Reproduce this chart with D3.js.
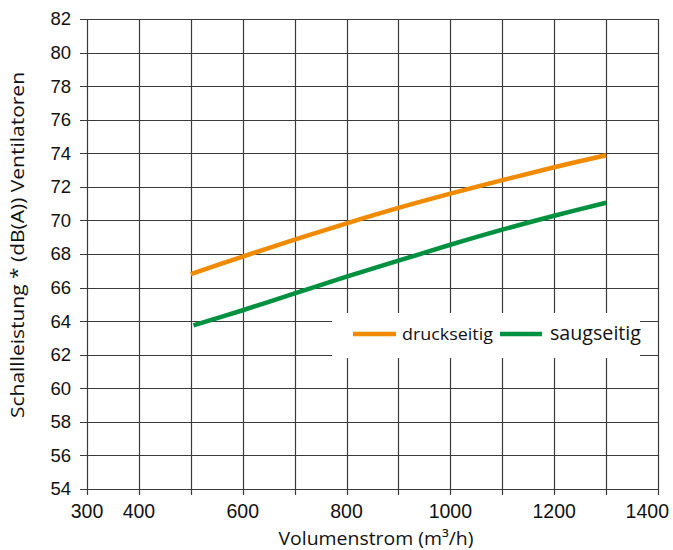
<!DOCTYPE html>
<html><head><meta charset="utf-8">
<script src="https://cdn.jsdelivr.net/npm/d3@7"></script>
<style>body{margin:0;background:#fff;}svg{display:block;}</style>
</head><body>
<svg id="chart" width="673" height="550"></svg>
<script>
const xTickValues = [300, 400, 600, 800, 1000, 1200, 1400];
const xGridValues = [300, 400, 500, 600, 700, 800, 900, 1000, 1100, 1200, 1300, 1400];
const yTickValues = [54, 56, 58, 60, 62, 64, 66, 68, 70, 72, 74, 76, 78, 80, 82];
const seriesNames = ["druckseitig", "saugseitig"];
const seriesColors = ["#F08A00", "#009140"];
const druckX = [500, 600, 700, 800, 900, 1000, 1100, 1200, 1300];
const druckY = [66.8, 67.85, 68.85, 69.83, 70.75, 71.6, 72.4, 73.17, 73.88];
const saugX = [505, 600, 700, 800, 900, 1000, 1100, 1200, 1300];
const saugY = [63.75, 64.65, 65.65, 66.65, 67.6, 68.55, 69.45, 70.28, 71.05];

const svg = d3.select("#chart");
const x = d3.scaleLinear().domain([300, 1400]).range([87, 658]);
const y = d3.scaleLinear().domain([54, 82]).range([489, 19]);

// grid
svg.append("g").selectAll("line").data(xGridValues).join("line")
  .attr("x1", d => Math.round(x(d)) + 0.5).attr("x2", d => Math.round(x(d)) + 0.5)
  .attr("y1", y(82)).attr("y2", y(54) + 6)
  .attr("stroke", "#3a3a3a").attr("stroke-width", 1.2);
svg.append("g").selectAll("line").data(yTickValues).join("line")
  .attr("y1", d => Math.round(y(d)) + 0.5).attr("y2", d => Math.round(y(d)) + 0.5)
  .attr("x1", x(300) - 7).attr("x2", x(1400))
  .attr("stroke", "#3a3a3a").attr("stroke-width", 1.2);

// tick labels
svg.append("g").selectAll("text").data(yTickValues).join("text")
  .attr("x", 71).attr("y", d => y(d)).attr("dy", "0.35em")
  .attr("text-anchor", "end")
  .attr("font-family", "Liberation Sans, Arial, sans-serif").attr("font-size", 18.5)
  .attr("fill", "#111").text(d => d);
svg.append("g").selectAll("text").data(xTickValues).join("text")
  .attr("x", d => d === 1400 ? 669 : x(d)).attr("y", 518)
  .attr("text-anchor", d => d === 1400 ? "end" : "middle")
  .attr("font-family", "Liberation Sans, Arial, sans-serif").attr("font-size", 19.5)
  .attr("fill", "#111").text(d => d);

// axis titles
svg.append("text").attr("x", 376).attr("y", 545).attr("text-anchor", "middle")
  .attr("font-family", "Open Sans, sans-serif").attr("font-size", 19)
  .attr("textLength", 195).attr("lengthAdjust", "spacingAndGlyphs")
  .attr("fill", "#111").text("Volumenstrom (m³/h)");
svg.append("text").attr("transform", "translate(24,245) rotate(-90)").attr("text-anchor", "middle")
  .attr("font-family", "Open Sans, sans-serif").attr("font-size", 19)
  .attr("textLength", 346).attr("lengthAdjust", "spacingAndGlyphs")
  .attr("fill", "#111").text("Schallleistung * (dB(A)) Ventilatoren");

// lines
const line = d3.line().x(d => x(d[0])).y(d => y(d[1])).curve(d3.curveCatmullRom.alpha(0.5));
const data = [d3.zip(druckX, druckY), d3.zip(saugX, saugY)];
svg.append("g").selectAll("path").data(data).join("path")
  .attr("d", line).attr("fill", "none")
  .attr("stroke", (d, i) => seriesColors[i]).attr("stroke-width", 4.5);

// legend
svg.append("rect").attr("x", 332).attr("y", 313).attr("width", 308).attr("height", 45).attr("fill", "#fff");
const leg = [
  {x1: 353, x2: 396, tx: 402, fs: 16, tl: 91},
  {x1: 500, x2: 542, tx: 550, fs: 19.5, tl: 91}
];
leg.forEach((l, i) => {
  svg.append("line").attr("x1", l.x1).attr("x2", l.x2).attr("y1", 334).attr("y2", 334)
    .attr("stroke", seriesColors[i]).attr("stroke-width", 4.5);
  svg.append("text").attr("x", l.tx).attr("y", 340)
    .attr("font-family", "Open Sans, sans-serif").attr("font-size", l.fs)
    .attr("textLength", l.tl).attr("lengthAdjust", "spacingAndGlyphs")
    .attr("fill", "#111").text(seriesNames[i]);
});
</script>
</body></html>
